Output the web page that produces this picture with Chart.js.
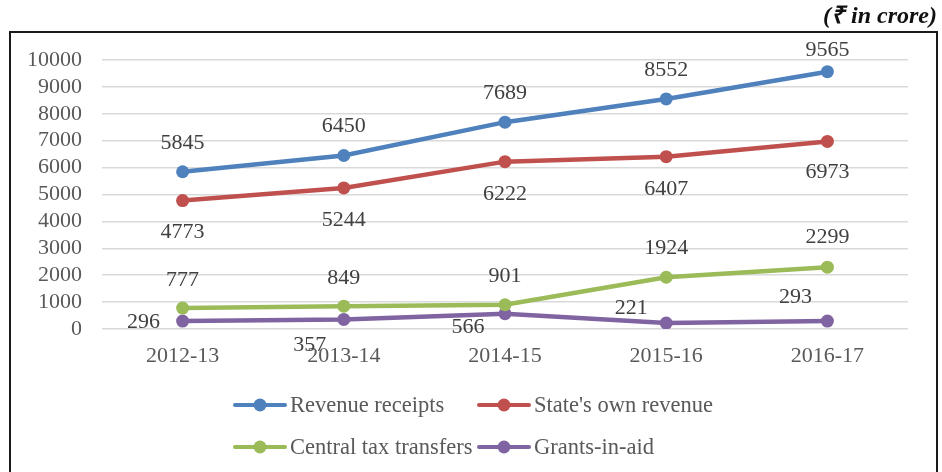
<!DOCTYPE html>
<html>
<head>
<meta charset="utf-8">
<script src="https://cdn.jsdelivr.net/npm/chart.js@4/dist/chart.umd.min.js"></script>
<style>
  html, body { margin: 0; padding: 0; background: #fff; }
  #wrap { width: 942px; height: 472px; }
</style>
</head>
<body>
<div id="wrap"><canvas id="revChart" width="942" height="472"></canvas></div>
<script>
/* ====== data ====== */
const years = ['2012-13', '2013-14', '2014-15', '2015-16', '2016-17'];
const revenueReceipts = [5845, 6450, 7689, 8552, 9565];
const stateOwnRevenue = [4773, 5244, 6222, 6407, 6973];
const centralTaxTransfers = [777, 849, 901, 1924, 2299];
const grantsInAid = [296, 357, 566, 221, 293];
const yTicks = [0, 1000, 2000, 3000, 4000, 5000, 6000, 7000, 8000, 9000, 10000];

const SERIF = '"Liberation Serif", "Times New Roman", serif';

// label placement (dx, dy from the point), per series / per point
const labelOffsets = [
  [[0, -29], [0, -29], [0, -29], [0, -29], [0, -21]],
  [[0, 32], [0, 32], [0, 33], [0, 33], [0, 31]],
  [[0, -28], [0, -28], [0, -29], [0, -29], [0, -30]],
  [[-39, 1], [-34, 26], [-37, 13], [-35, -15], [-32, -24]]
];

const dataLabels = {
  id: 'dataLabels',
  afterDatasetsDraw(chart) {
    const ctx = chart.ctx;
    ctx.save();
    ctx.font = '22px ' + SERIF;
    ctx.fillStyle = '#404040';
    ctx.textAlign = 'center';
    ctx.textBaseline = 'middle';
    chart.data.datasets.forEach((ds, di) => {
      chart.getDatasetMeta(di).data.forEach((pt, i) => {
        const off = labelOffsets[di][i];
        ctx.fillText(String(ds.data[i]), pt.x + off[0], pt.y + off[1]);
      });
    });
    ctx.restore();
  }
};

const frame = {
  id: 'frame',
  afterDraw(chart) {
    const ctx = chart.ctx;
    ctx.save();
    // outer box
    ctx.strokeStyle = '#1a1a1a';
    ctx.lineWidth = 2;
    ctx.strokeRect(10, 32, 927, 460);
    // unit note
    ctx.font = 'italic bold 24px ' + SERIF;
    ctx.fillStyle = '#111';
    ctx.textAlign = 'right';
    ctx.textBaseline = 'alphabetic';
    ctx.fillText('(\u20B9 in crore)', 937, 23);

    // legend, two rows
    const cols = [235, 479];
    const rows = [405, 447];
    ctx.font = '22.5px ' + SERIF;
    ctx.textBaseline = 'middle';
    ctx.textAlign = 'left';
    chart.data.datasets.forEach((ds, i) => {
      const x = cols[i % 2], y = rows[Math.floor(i / 2)];
      ctx.strokeStyle = ds.borderColor;
      ctx.lineWidth = 4;
      ctx.lineCap = 'round';
      ctx.beginPath();
      ctx.moveTo(x, y);
      ctx.lineTo(x + 50, y);
      ctx.stroke();
      ctx.fillStyle = ds.borderColor;
      ctx.beginPath();
      ctx.arc(x + 25, y, 6.5, 0, Math.PI * 2);
      ctx.fill();
      ctx.fillStyle = '#595959';
      ctx.fillText(ds.label, x + 55, y + 1);
    });
    ctx.restore();
  }
};

function series(label, data, color) {
  return {
    label, data,
    borderColor: color,
    backgroundColor: color,
    borderWidth: 4.5,
    pointRadius: 6.5,
    pointHoverRadius: 6.5,
    pointBackgroundColor: color,
    pointBorderWidth: 0,
    tension: 0
  };
}

new Chart(document.getElementById('revChart'), {
  type: 'line',
  data: {
    labels: years,
    datasets: [
      series('Revenue receipts', revenueReceipts, '#4F81BD'),
      series("State's own revenue", stateOwnRevenue, '#C0504D'),
      series('Central tax transfers', centralTaxTransfers, '#9BBB59'),
      series('Grants-in-aid', grantsInAid, '#8064A2')
    ]
  },
  options: {
    responsive: false,
    animation: false,
    layout: { padding: { top: 60, right: 34, left: 0, bottom: 0 } },
    plugins: {
      legend: { display: false },
      tooltip: { enabled: false }
    },
    scales: {
      x: {
        offset: true,
        grid: { display: false, drawTicks: false },
        border: { display: false },
        ticks: { padding: 14, color: '#595959', font: { family: SERIF, size: 22 } },
        afterFit(s) { s.height = 143; }
      },
      y: {
        min: 0,
        max: 10000,
        afterBuildTicks(s) { s.ticks = yTicks.map(v => ({ value: v })); },
        grid: { color: '#d9d9d9', lineWidth: 1.5, drawTicks: false },
        border: { display: false },
        ticks: {
          autoSkip: false,
          padding: 20, color: '#595959', font: { family: SERIF, size: 22, lineHeight: 1 },
          callback: v => String(v)
        },
        afterFit(s) { s.width = 102; }
      }
    }
  },
  plugins: [dataLabels, frame]
});
</script>
</body>
</html>
